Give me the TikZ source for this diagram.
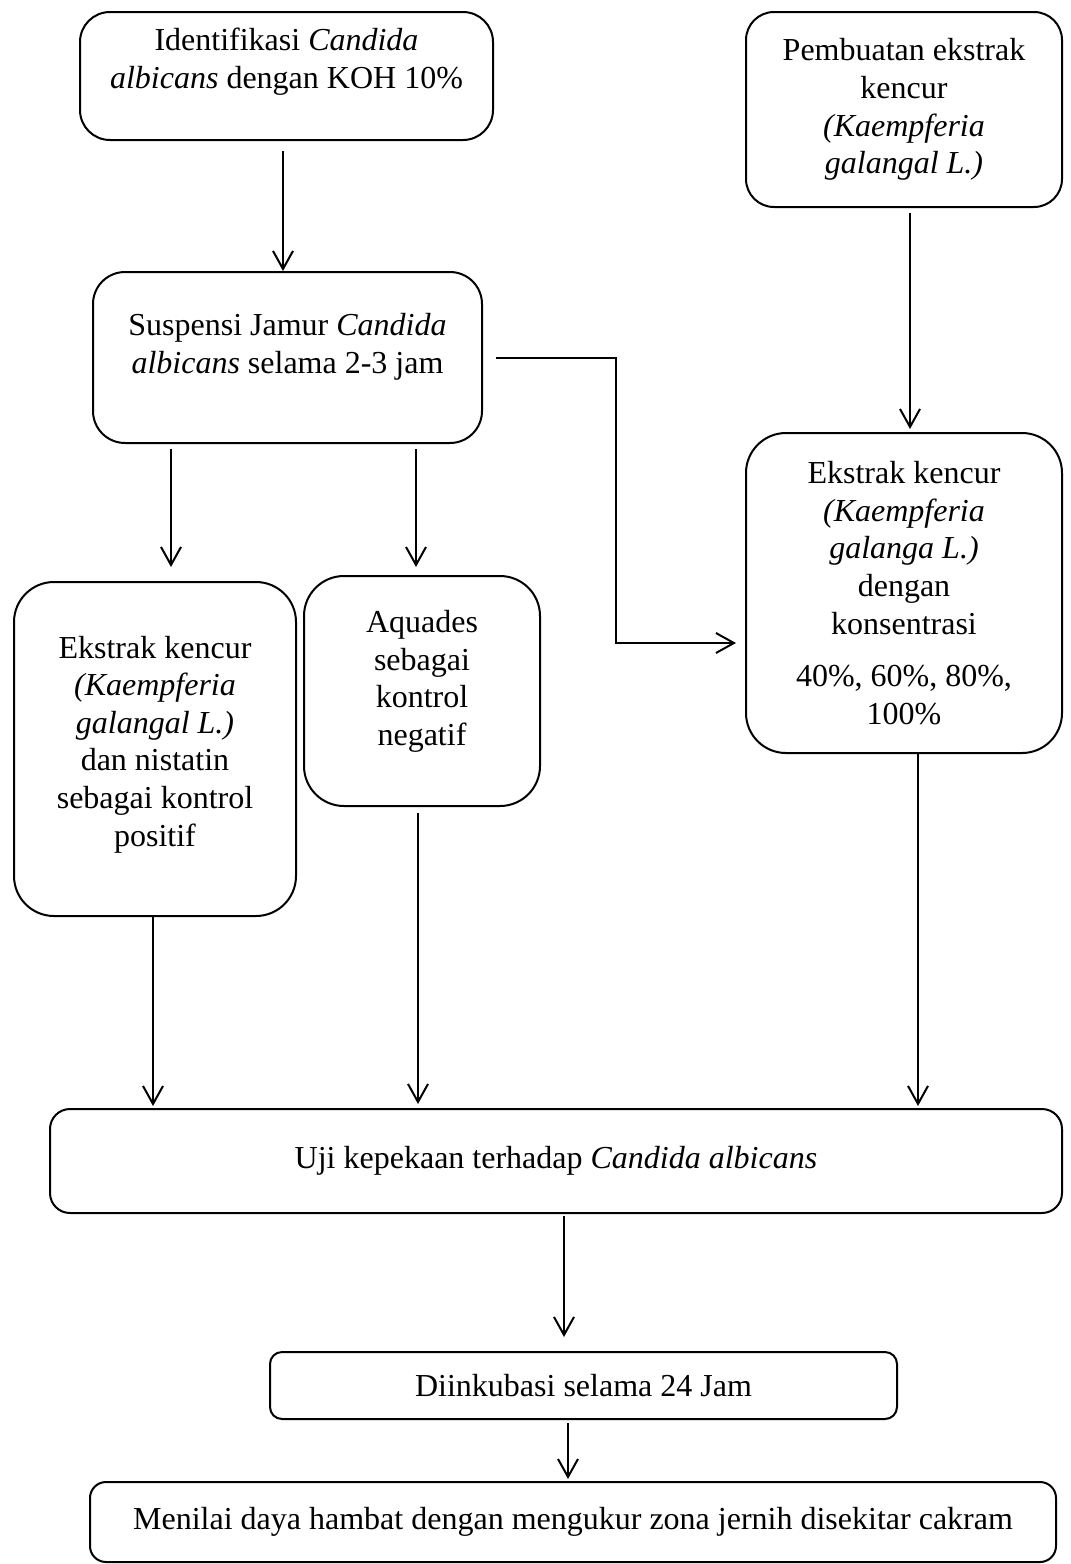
\documentclass[tikz,border=0pt]{standalone}
\usepackage{fontspec}
\setmainfont{Liberation Serif}
\usetikzlibrary{arrows.meta,calc}

\begin{document}
\begin{tikzpicture}[x=0.5pt,y=-0.5pt,
    font=\fontsize{16}{18.8}\selectfont,
    kotak/.style={draw,line width=1pt,rounded corners=#1,align=center,inner sep=0pt},
    panah/.style={line width=1pt,-{Straight Barb[length=9pt,width=10pt]}}]
  \useasboundingbox (0,0) rectangle (1071,1564);
  \node[kotak=15pt,minimum width=206.5pt,minimum height=64pt,text depth=18pt] (ident) at (286.5,76)
    {Identifikasi \textit{Candida}\\\textit{albicans} dengan KOH 10\%};
  \node[kotak=14pt,minimum width=158pt,minimum height=97.5pt] (buat) at (904,109.5)
    {Pembuatan ekstrak\\kencur\\\textit{(Kaempferia}\\\textit{galangal L.)}};
  \node[kotak=16pt,minimum width=194.5pt,minimum height=85.5pt,text depth=14pt] (susp) at (287.5,357.5)
    {Suspensi Jamur \textit{Candida}\\\textit{albicans} selama 2-3 jam};
  \node[kotak=20pt,minimum width=158pt,minimum height=160pt] (konsen) at (904,593)
    {Ekstrak kencur\\\textit{(Kaempferia}\\\textit{galanga L.)}\\dengan\\konsentrasi\\[7.5pt]40\%, 60\%, 80\%,\\100\%};
  \node[kotak=20pt,minimum width=141pt,minimum height=167pt,text depth=8pt] (positif) at (155,749)
    {Ekstrak kencur\\\textit{(Kaempferia}\\\textit{galangal L.)}\\dan nistatin\\sebagai kontrol\\positif};
  \node[kotak=20pt,minimum width=118pt,minimum height=115pt,text depth=13pt] (aquades) at (422,691)
    {Aquades\\sebagai\\kontrol\\negatif};
  \node[kotak=10pt,minimum width=506pt,minimum height=52pt] (uji) at (556,1161)
    {Uji kepekaan terhadap \textit{Candida albicans}};
  \node[kotak=6pt,minimum width=313.5pt,minimum height=33.5pt] (inkub) at (583.5,1385.5)
    {Diinkubasi selama 24 Jam};
  \node[kotak=8pt,minimum width=483pt,minimum height=40pt] (nilai) at (573,1522)
    {Menilai daya hambat dengan mengukur zona jernih disekitar cakram};

  \draw[panah,shorten <=5pt] ($(ident.south)+(-3.5,0)$) coordinate (a1) -- (a1 |- susp.north);
  \draw[panah,shorten <=2.5pt,shorten >=1.5pt] ($(buat.south)+(6,0)$) coordinate (a2) -- (a2 |- konsen.north);
  \draw[panah,shorten <=2.5pt,shorten >=7pt] ($(susp.south)+(-116.5,0)$) coordinate (a3) -- (a3 |- positif.north);
  \draw[panah,shorten <=2.5pt,shorten >=4pt] ($(susp.south)+(128.5,0)$) coordinate (a4) -- (a4 |- aquades.north);
  \draw[panah,shorten <=6.5pt,shorten >=4.5pt] (susp.east) -- ++(133,0) |- ($(konsen.west)+(0,50)$);
  \draw[panah,shorten >=1pt] ($(positif.south)+(-2,0)$) coordinate (a5) -- (a5 |- uji.north);
  \draw[panah,shorten <=3pt,shorten >=2pt] ($(aquades.south)+(-4,0)$) coordinate (a6) -- (a6 |- uji.north);
  \draw[panah,shorten >=1pt] ($(konsen.south)+(14,0)$) coordinate (a7) -- (a7 |- uji.north);
  \draw[panah,shorten <=1pt,shorten >=7pt] ($(uji.south)+(8,0)$) coordinate (a8) -- (a8 |- inkub.north);
  \draw[panah,shorten <=1.5pt,shorten >=1pt] ($(inkub.south)+(-15.5,0)$) coordinate (a9) -- (a9 |- nilai.north);
\end{tikzpicture}
\end{document}
